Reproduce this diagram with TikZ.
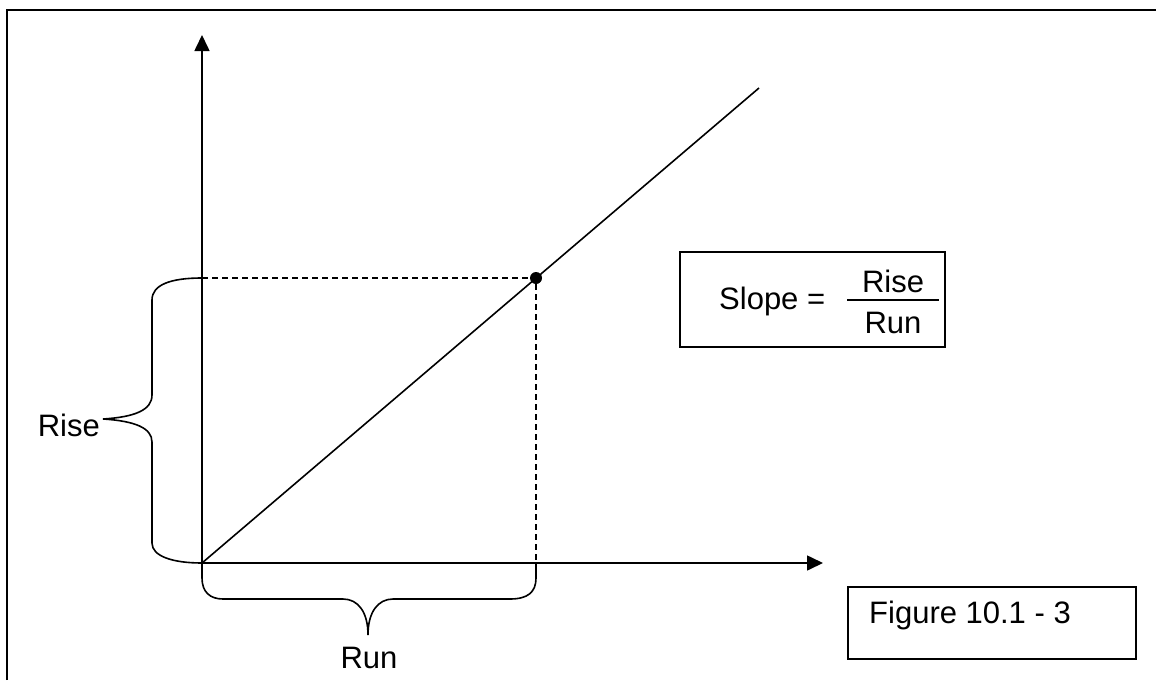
\documentclass[tikz,border=0pt]{standalone}
\usepackage{fontspec}
\setmainfont{Liberation Sans}
\usepackage{tikz}
\usetikzlibrary{arrows.meta}

\tikzset{
  axis/.style={line width=1.6pt, -{Triangle[width=15pt,length=16pt]}},
  guide/.style={line width=1.6pt, dash pattern=on 6pt off 4pt},
  brace/.style={line width=1.6pt},
  txt/.style={inner sep=0pt, font=\fontsize{31}{36}\selectfont},
  boxed/.style={draw, line width=1.8pt, inner sep=0pt},
  dot/.style={circle, fill, inner sep=0pt, minimum size=12pt}
}

\begin{document}
\begin{tikzpicture}[x=1pt, y=-1pt]
        \useasboundingbox (0,0) rectangle (1156,680);
        %\draw[help lines] (0,0) grid (1156,680);
        \draw[line width=2.8pt] (7,680) -- (7,10) -- (1156,10);

        \coordinate (O) at (202,563);
        \coordinate (ytip) at (202,35);
        \coordinate (xtip) at (823,563);
        \coordinate (lend) at (759,88);
        \node[dot] (P) at (536,278) {};
        \coordinate (Py) at (O |- P);
        \coordinate (Px) at (P |- O);

        \draw[axis] (O) -- (ytip);
        \draw[axis] (O) -- (xtip);
        \draw[line width=1.6pt] (O) -- (lend);
        \draw[guide] (Py) -- (P.center) -- (Px);

        % Rise brace
        \draw[brace] (Py) .. controls (170,278) and (152,285) .. (152,300)
            -- (152,395) .. controls (152,410) and (135,417) .. (103,419)
            .. controls (135,421) and (152,428) .. (152,442)
            -- (152,543) .. controls (152,556) and (172,563) .. (O);
        % Run brace
        \draw[brace] (O) -- (202,578) .. controls (202,592) and (210,599) .. (223,599)
            -- (343,599) .. controls (358,599) and (368,612) .. (368,635)
            .. controls (368,612) and (378,599) .. (393,599)
            -- (510,599) .. controls (528,599) and (536,592) .. (536,578) -- (Px);

        \node[txt, anchor=base east] (rise) at (100,436) {Rise};
        \node[txt, anchor=base] (run) at (369,668) {Run};

        \node[boxed, minimum width=265pt, minimum height=95pt] (slopebox) at (812.5,299.5) {};
        \node[txt, anchor=base west] (slope) at (719,309) {Slope =};
        \node[txt, anchor=base] (num) at (893,292) {Rise};
        \node[txt, anchor=base] (den) at (893,333) {Run};
        \draw[line width=1.6pt] (847,300) -- (939,300);

        \node[boxed, minimum width=288pt, minimum height=72pt] (figbox) at (992,623) {};
        \node[txt, anchor=base west] (fig) at (869,623) {Figure 10.1 - 3};
\end{tikzpicture}
\end{document}
